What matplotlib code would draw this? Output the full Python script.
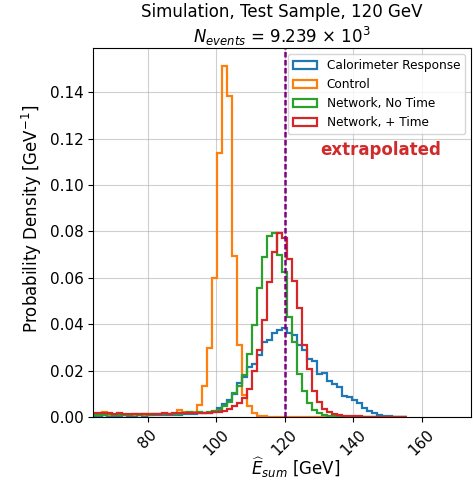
import numpy as np
import matplotlib
matplotlib.use('Agg')
import matplotlib.pyplot as plt

# shared bin edges [GeV]
bin_lo, bin_hi, n_bins = 63.65, 155.76, 63
edges = np.linspace(bin_lo, bin_hi, n_bins + 1)

# probability densities per bin [1/GeV]
calo = [0.0006, 0.0005, 0.0007, 0.0006, 0.0004, 0.0006, 0.0007, 0.0005, 0.0006, 0.0008,
        0.0006, 0.0007, 0.0008, 0.0007, 0.0009, 0.0008, 0.0010,
        0.0009, 0.0011, 0.0012, 0.0013, 0.0015, 0.0017, 0.0019, 0.0023,
        0.0040, 0.0055, 0.0075, 0.0100, 0.0145, 0.0174, 0.0217, 0.0230, 0.0268, 0.0325,
        0.0330, 0.0362, 0.0376, 0.0383, 0.0361, 0.0355, 0.0310, 0.0290, 0.0250, 0.0240,
        0.0186, 0.0190, 0.0155, 0.0140, 0.0130, 0.0090, 0.0086, 0.0072, 0.0058, 0.0038,
        0.0024, 0.0016, 0.0009, 0.0004, 0.0002, 0.0001, 0.0, 0.0]

control = [0.0012, 0.0010, 0.0022, 0.0008, 0.0009, 0.0011, 0.0008, 0.0010, 0.0009, 0.0012,
           0.0010, 0.0011, 0.0013, 0.0012, 0.0014, 0.0012, 0.0014,
           0.0030, 0.0020, 0.0016, 0.0023, 0.0052, 0.0135, 0.0296, 0.0600,
           0.1140, 0.1515, 0.1386, 0.0695, 0.0310, 0.0095, 0.0045, 0.0018, 0.0006, 0.0002,
           0.0001, 0.0, 0.0, 0.0, 0.0, 0.0, 0.0, 0.0, 0.0, 0.0,
           0.0, 0.0, 0.0, 0.0, 0.0, 0.0, 0.0, 0.0, 0.0, 0.0,
           0.0, 0.0, 0.0, 0.0, 0.0, 0.0, 0.0, 0.0]

net_no_time = [0.0010, 0.0008, 0.0009, 0.0011, 0.0007, 0.0009, 0.0008, 0.0010, 0.0011, 0.0009,
               0.0012, 0.0010, 0.0012, 0.0011, 0.0013, 0.0012, 0.0014,
               0.0013, 0.0016, 0.0020, 0.0017, 0.0021, 0.0019, 0.0022, 0.0025,
               0.0030, 0.0045, 0.0065, 0.0105, 0.0135, 0.0180, 0.0270, 0.0395, 0.0555, 0.0690,
               0.0780, 0.0793, 0.0700, 0.0625, 0.0430, 0.0325, 0.0185, 0.0110, 0.0060, 0.0030,
               0.0017, 0.0008, 0.0004, 0.0002, 0.0001, 0.0, 0.0, 0.0, 0.0, 0.0,
               0.0, 0.0, 0.0, 0.0, 0.0, 0.0, 0.0, 0.0]

net_time = [0.0018, 0.0016, 0.0015, 0.0016, 0.0014, 0.0015, 0.0013, 0.0014, 0.0013, 0.0014,
            0.0012, 0.0013, 0.0014, 0.0013, 0.0015, 0.0014, 0.0016,
            0.0015, 0.0017, 0.0016, 0.0018, 0.0017, 0.0019, 0.0018, 0.0021,
            0.0022, 0.0025, 0.0033, 0.0045, 0.0060, 0.0080, 0.0120, 0.0196, 0.0290, 0.0420,
            0.0580, 0.0710, 0.0795, 0.0770, 0.0680, 0.0585, 0.0470, 0.0310, 0.0205, 0.0110,
            0.0065, 0.0035, 0.0020, 0.0011, 0.0007, 0.0004, 0.0003, 0.0002, 0.0002, 0.0001,
            0.0001, 0.0001, 0.0001, 0.0001, 0.0, 0.0, 0.0, 0.0]

labels = ['Calorimeter Response', 'Control', 'Network, No Time', 'Network, + Time']
true_energy = 120
n_events = 9.239

fig = plt.figure(figsize=(4.73, 4.82), dpi=100)
ax = fig.add_axes([0.197, 0.135, 0.799, 0.765])

centers = 0.5 * (edges[:-1] + edges[1:])
for vals, lab in zip([calo, control, net_no_time, net_time], labels):
    ax.hist(centers, bins=edges, weights=vals, histtype='step', linewidth=1.6, label=lab)

ax.axvline(true_energy, color='purple', linestyle=(0, (2.2, 1.0)), linewidth=1.8)
ax.text(148, 0.1153, 'extrapolated', color='#d02a2a', fontsize=12, fontweight='bold',
        ha='center', va='center')

ax.set_xlim(64.0, 174.5)
ax.grid(True, alpha=0.6)
ax.tick_params(labelsize=11)
plt.setp(ax.get_xticklabels(), rotation=45)

ax.set_xlabel(r'$\widehat{E}_{sum}$ [GeV]', fontsize=12, x=0.536, labelpad=-2)
ax.set_ylabel(r'Probability Density [GeV$^{-1}$]', fontsize=12, y=0.537)
ax.set_title('Simulation, Test Sample, %d GeV\n$N_{events}$ = %.3f $\\times$ 10$^3$'
             % (true_energy, n_events), fontsize=12, pad=3)
ax.legend(loc='upper right', fontsize=8.7)

fig.savefig('out.png', dpi=100)
